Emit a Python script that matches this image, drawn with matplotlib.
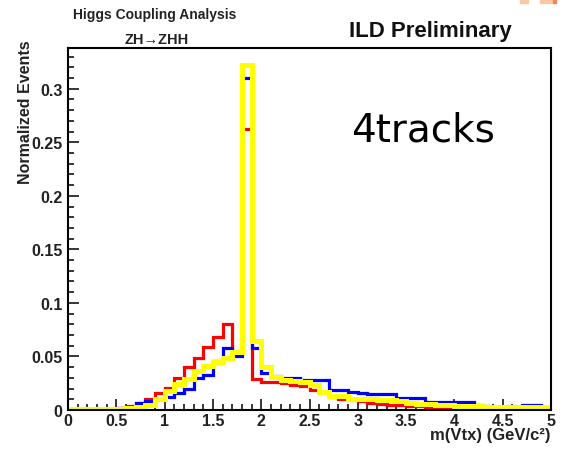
import matplotlib
matplotlib.use('Agg')
import matplotlib.pyplot as plt
from matplotlib.patches import Rectangle
from matplotlib.ticker import FixedLocator, FixedFormatter, MultipleLocator
import numpy as np

# vertex mass histograms, 50 bins of 0.1 GeV from 0 to 5
bin_edges = np.linspace(0.0, 5.0, 51)

red_vals = [0.0, 0.0, 0.0, 0.0005, 0.001, 0.002, 0.004, 0.0065, 0.010, 0.016,
            0.021, 0.030, 0.040, 0.049, 0.059, 0.068, 0.080, 0.055, 0.262, 0.029,
            0.026, 0.026, 0.025, 0.023, 0.022, 0.019, 0.017, 0.012, 0.010, 0.009,
            0.008, 0.007, 0.006, 0.005, 0.005, 0.004, 0.004, 0.003, 0.003, 0.002,
            0.002, 0.002, 0.001, 0.001, 0.001, 0.001, 0.001, 0.001, 0.0005, 0.0005]

blue_vals = [0.0, 0.0, 0.0, 0.0005, 0.001, 0.002, 0.003, 0.0065, 0.008, 0.010,
             0.012, 0.016, 0.020, 0.030, 0.033, 0.046, 0.058, 0.050, 0.310, 0.058,
             0.035, 0.032, 0.030, 0.030, 0.028, 0.028, 0.028, 0.019, 0.019, 0.017,
             0.016, 0.015, 0.015, 0.015, 0.011, 0.011, 0.011, 0.0075, 0.0075, 0.0075,
             0.0075, 0.0075, 0.005, 0.004, 0.003, 0.003, 0.003, 0.005, 0.005, 0.003]

yellow_vals = [0.001, 0.001, 0.001, 0.001, 0.001, 0.001, 0.002, 0.003, 0.005, 0.010,
               0.018, 0.024, 0.029, 0.036, 0.041, 0.045, 0.049, 0.054, 0.322, 0.064,
               0.040, 0.031, 0.028, 0.027, 0.026, 0.023, 0.017, 0.013, 0.013, 0.010,
               0.010, 0.010, 0.009, 0.009, 0.008, 0.007, 0.006, 0.006, 0.005, 0.005,
               0.004, 0.004, 0.004, 0.003, 0.003, 0.003, 0.003, 0.003, 0.003, 0.003]

x_ticks = [0, 0.5, 1, 1.5, 2, 2.5, 3, 3.5, 4, 4.5, 5]
x_tick_labels = ['0', '0.5', '1', '1.5', '2', '2.5', '3', '3.5', '4', '4.5', '5']
y_ticks = [0, 0.05, 0.1, 0.15, 0.2, 0.25, 0.3]
y_tick_labels = ['0', '0.05', '0.1', '0.15', '0.2', '0.25', '0.3']

plt.rcParams['font.family'] = ['Liberation Sans', 'DejaVu Sans']

fig = plt.figure(figsize=(5.64, 4.52), dpi=100)
ax = fig.add_axes([68 / 564, 1 - 411 / 452, 483 / 564, 362 / 452])

ax.stairs(red_vals, bin_edges, baseline=0, color='#ff0000', lw=2.3, zorder=2)
ax.stairs(blue_vals, bin_edges, baseline=0, color='#0000ff', lw=2.3, zorder=3)
ax.stairs(yellow_vals, bin_edges, baseline=0, color='#ffff00', lw=3.6, zorder=4)

ax.set_xlim(0, 5)
ax.set_ylim(0, 0.338)

ax.xaxis.set_major_locator(FixedLocator(x_ticks))
ax.xaxis.set_major_formatter(FixedFormatter(x_tick_labels))
ax.xaxis.set_minor_locator(MultipleLocator(0.1))
ax.yaxis.set_major_locator(FixedLocator(y_ticks))
ax.yaxis.set_major_formatter(FixedFormatter(y_tick_labels))
ax.yaxis.set_minor_locator(MultipleLocator(0.01))

ax.tick_params(which='both', direction='in', top=False, right=False, width=1.1, color='black')
ax.tick_params(which='major', length=8)
ax.tick_params(which='minor', length=4)
ax.tick_params(axis='y', which='major', pad=4)
ax.tick_params(axis='x', which='major', pad=2)
for lab in ax.get_xticklabels() + ax.get_yticklabels():
    lab.set_fontweight('bold')
    lab.set_fontsize(11.5)
    lab.set_color('#222222')

for sp in ax.spines.values():
    sp.set_linewidth(1.5)
    sp.set_zorder(6)

# labels and annotations, placed like the ROOT canvas
fig.text(26 / 564, 1 - 40 / 452, 'Normalized Events', rotation=90, ha='center', va='top',
         fontsize=11.5, fontweight='bold', color='#222222')
fig.text(550 / 564, 1 - 436 / 452, 'm(Vtx) (GeV/c²)', ha='right', va='center',
         fontsize=12, fontweight='bold', color='#222222')
fig.text(155 / 564, 1 - 15 / 452, 'Higgs Coupling Analysis', ha='center', va='center',
         fontsize=10, fontweight='bold', color='#222222')
fig.text(157 / 564, 1 - 40 / 452, 'ZH→ZHH', ha='center', va='center',
         fontsize=10.5, fontweight='bold', color='#222222')
fig.text(430 / 564, 1 - 31 / 452, 'ILD Preliminary', ha='center', va='center',
         fontsize=16, fontweight='bold', color='#111111')
fig.text(423 / 564, 1 - 130 / 452, '4tracks', ha='center', va='center',
         fontsize=28, family=['DejaVu Sans'], color='black')

# slide decoration in the corner
fig.patches.append(Rectangle((520 / 564, 1 - 4 / 452), 8 / 564, 4 / 452,
                             transform=fig.transFigure, color='#fcc6a8', zorder=0))
fig.patches.append(Rectangle((540 / 564, 1 - 4 / 452), 13 / 564, 4 / 452,
                             transform=fig.transFigure, color='#fcc6a8', zorder=0))
fig.patches.append(Rectangle((553 / 564, 1 - 4 / 452), 3 / 564, 4 / 452,
                             transform=fig.transFigure, color='#f4874a', zorder=0))

fig.savefig('out.png', dpi=100)
